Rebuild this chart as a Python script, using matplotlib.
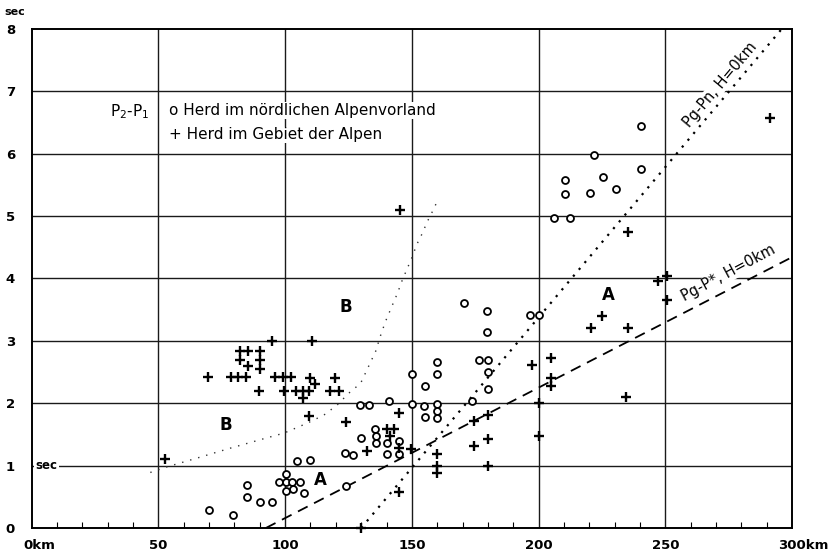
import numpy as np
import matplotlib
matplotlib.use("Agg")
import matplotlib.pyplot as plt
from matplotlib.transforms import ScaledTranslation

plt.rcParams['font.family'] = ['DejaVu Sans']
plt.rcParams['mathtext.default'] = 'regular'

# epicentral distance (km) and P2-P1 (sec)
vorland_km = [70, 79.5, 85, 85, 90, 95, 100.3, 97.4, 100.3, 102.9, 105.8, 100.3, 103.2, 107.5,
              104.5, 110, 124, 123.5, 126.8, 129.8, 129.5, 133, 141, 135.6, 135.8, 135.8,
              140, 140, 145, 145, 150, 150, 155.2, 154.8, 155.2, 160, 159.8, 159.8, 159.8, 159.8,
              173.6, 170.4, 179.6, 179.8, 176.6, 179.9, 180.1, 179.9, 196.7, 200,
              206.2, 212.3, 210.5, 210.5, 220.4, 225.3, 230.6, 222, 240.4, 240.4]
vorland_sec = [0.29, 0.21, 0.69, 0.50, 0.41, 0.41, 0.86, 0.74, 0.74, 0.74, 0.73, 0.60, 0.63, 0.56,
               1.07, 1.09, 0.68, 1.20, 1.17, 1.44, 1.97, 1.97, 2.04, 1.59, 1.48, 1.37,
               1.37, 1.18, 1.39, 1.19, 1.98, 2.46, 2.28, 1.96, 1.78, 2.66, 2.46, 1.99, 1.875, 1.77,
               2.03, 3.60, 3.47, 3.14, 2.69, 2.69, 2.50, 2.22, 3.41, 3.41,
               4.96, 4.96, 5.35, 5.58, 5.37, 5.62, 5.43, 5.97, 5.76, 6.44]

alpen_km = [52.5, 69.5, 78.5, 81.5, 84.5, 96, 99, 102.3, 110, 119.7,
            82, 85.3, 90, 82, 90, 85.3, 90, 95, 110.5,
            89.5, 99.7, 104.3, 106.9, 109.5, 106.9, 111.9, 117.8, 121.4,
            109.5, 124, 132.2, 145, 140, 143, 141.4, 145, 149.5, 145, 130, 145.5,
            160, 160, 160, 174.6, 180, 174.6, 180, 180,
            197.6, 200, 200, 205.1, 205.1, 205.1, 220.7, 224.9, 235.1, 234.5,
            235.2, 247, 250.5, 250.5, 291.2]
alpen_sec = [1.11, 2.42, 2.42, 2.42, 2.42, 2.42, 2.42, 2.42, 2.41, 2.41,
             2.83, 2.83, 2.83, 2.70, 2.70, 2.60, 2.55, 3.0, 3.0,
             2.20, 2.20, 2.20, 2.20, 2.20, 2.09, 2.30, 2.20, 2.20,
             1.80, 1.70, 1.24, 1.85, 1.59, 1.59, 1.48, 1.28, 1.26, 0.57, 0.0, 5.1,
             1.18, 1.0, 0.88, 1.71, 1.81, 1.31, 1.42, 1.0,
             2.61, 2.0, 1.48, 2.73, 2.41, 2.27, 3.21, 3.40, 3.20, 2.10,
             4.75, 3.96, 4.04, 3.66, 6.57]

# travel time difference lines for H = 0 km
pgpn_km = [130, 296]
pgpn_sec = [0.0, 8.0]
pgpstar_km = [92.4, 300]
pgpstar_sec = [0.0, 4.34]

# boundary of region B (dotted curve)
grenze_km = [46.8, 53.4, 65.2, 78.4, 91.5, 99.5, 108.7, 115.3, 120.5, 125.1, 129.8,
             135.7, 137.7, 139.6, 142.3, 144.3, 146.2, 148.2, 150.2, 151.9, 154.1, 156.1, 158.1, 160.3]
grenze_sec = [0.89, 0.98, 1.12, 1.28, 1.43, 1.52, 1.68, 1.81, 1.97, 2.16, 2.32,
              2.83, 3.09, 3.31, 3.57, 3.76, 3.97, 4.16, 4.35, 4.54, 4.72, 4.91, 5.07, 5.26]

x_ticks = [0, 50, 100, 150, 200, 250, 300]
x_labels = ['0km', '50', '100', '150', '200', '250', '300km']
y_ticks = [0, 1, 2, 3, 4, 5, 6, 7, 8]

fig = plt.figure(figsize=(8.31, 5.55), dpi=100)
ax = fig.add_axes([31.7/831, 27/555, (792-31.7)/831, 499.2/555])
ax.set_xlim(0, 300)
ax.set_ylim(0, 8)

for v in x_ticks[1:-1]:
    ax.axvline(v, color='#1a1a1a', lw=1.0, zorder=1)
for h in y_ticks[1:-1]:
    ax.axhline(h, color='#1a1a1a', lw=1.0, zorder=1)

ax.plot(grenze_km, grenze_sec, color='#333333', lw=1.0, ls=(0, (1, 5)), zorder=2)
ax.plot(pgpn_km, pgpn_sec, color='black', lw=1.6, ls=(0, (1, 3)), zorder=2)
ax.plot(pgpstar_km, pgpstar_sec, color='black', lw=1.3, ls=(0, (6, 4)), zorder=2)

ax.plot(vorland_km, vorland_sec, 'o', ms=5, mfc='white', mec='black', mew=1.3, zorder=4, clip_on=False)
ax.plot(alpen_km, alpen_sec, '+', ms=7, color='black', mew=1.7, zorder=4, clip_on=False)

for s in ax.spines.values():
    s.set_linewidth(1.4)

ax.set_xticks(x_ticks)
ax.set_xticklabels(x_labels, fontsize=9.5, fontweight='bold')
ax.set_xticks(np.arange(10, 300, 10), minor=True)
ax.set_yticks(y_ticks)
ax.set_yticklabels([str(v) for v in y_ticks], fontsize=9.5, fontweight='bold')
ax.tick_params(axis='both', which='major', length=0)
ax.tick_params(axis='x', which='major', pad=8)
ax.tick_params(axis='y', which='major', pad=12)
ax.tick_params(axis='x', which='minor', direction='in', length=4, width=0.8)

labs = ax.get_xticklabels()
labs[0].set_ha('left')
labs[0].set_transform(labs[0].get_transform() + ScaledTranslation(-0.08, 0, fig.dpi_scale_trans))
labs[-1].set_ha('left')
labs[-1].set_transform(labs[-1].get_transform() + ScaledTranslation(-0.14, 0, fig.dpi_scale_trans))

fig.text(15/831, 1 - 12/555, 'sec', fontsize=8, fontweight='bold', ha='center', va='center')
ax.text(1.5, 1, 'sec', fontsize=8.5, fontweight='bold', ha='left', va='center',
        bbox=dict(facecolor='white', edgecolor='none', pad=1), zorder=3)

ax.text(31, 6.67, r'P$_2$-P$_1$', fontsize=11, ha='left', va='center')
ax.text(54, 6.69, 'o Herd im nördlichen Alpenvorland', fontsize=11, ha='left', va='center',
        bbox=dict(facecolor='white', edgecolor='none', pad=0.5), zorder=3)
ax.text(54, 6.30, '+ Herd im Gebiet der Alpen', fontsize=11, ha='left', va='center',
        bbox=dict(facecolor='white', edgecolor='none', pad=0.5), zorder=3)

ax.text(123.8, 3.54, 'B', fontsize=12, fontweight='bold', ha='center', va='center')
ax.text(76.4, 1.65, 'B', fontsize=12, fontweight='bold', ha='center', va='center')
ax.text(114, 0.77, 'A', fontsize=12, fontweight='bold', ha='center', va='center')
ax.text(227.4, 3.73, 'A', fontsize=12, fontweight='bold', ha='center', va='center')

ax.text(271.5, 7.1, 'Pg-Pn, H=0km', fontsize=10.5, rotation=50, ha='center', va='center',
        rotation_mode='anchor', bbox=dict(facecolor='white', edgecolor='none', pad=0.5), zorder=3)
ax.text(275.0, 4.08, 'Pg-P*, H=0km', fontsize=10.5, rotation=28, ha='center', va='center',
        rotation_mode='anchor', bbox=dict(facecolor='white', edgecolor='none', pad=0.5), zorder=3)

fig.savefig('out.png', dpi=100)
